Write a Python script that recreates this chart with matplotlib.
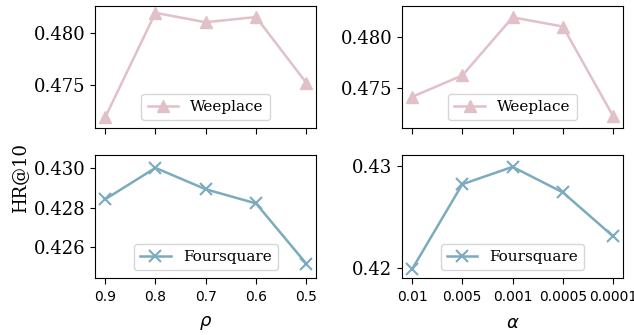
import matplotlib.pyplot as plt

plt.rcParams['font.family'] = 'DejaVu Serif'
plt.rcParams['mathtext.fontset'] = 'dejavusans'

rho_labels = ['0.9', '0.8', '0.7', '0.6', '0.5']
alpha_labels = ['0.01', '0.005', '0.001', '0.0005', '0.0001']

weeplace_rho = [0.4719, 0.4819, 0.4810, 0.4815, 0.4752]
foursquare_rho = [0.42843, 0.43003, 0.42894, 0.42822, 0.42515]
weeplace_alpha = [0.4741, 0.4762, 0.4819, 0.4810, 0.4722]
foursquare_alpha = [0.41987, 0.4282, 0.4299, 0.4274, 0.4231]

pink = '#e2c0c8'
blue = '#7babbd'

fig = plt.figure(figsize=(6.34, 3.35), dpi=100)
ax1 = fig.add_axes([0.150, 0.618, 0.349, 0.364])
ax2 = fig.add_axes([0.634, 0.618, 0.349, 0.364])
ax3 = fig.add_axes([0.150, 0.170, 0.349, 0.367])
ax4 = fig.add_axes([0.634, 0.170, 0.349, 0.367])

x = list(range(5))
ax1.plot(x, weeplace_rho, marker='^', color=pink, lw=1.8, ms=9, label='Weeplace')
ax2.plot(x, weeplace_alpha, marker='^', color=pink, lw=1.8, ms=9, label='Weeplace')
ax3.plot(x, foursquare_rho, marker='x', color=blue, lw=1.8, ms=9, mew=1.5, label='Foursquare')
ax4.plot(x, foursquare_alpha, marker='x', color=blue, lw=1.8, ms=9, mew=1.5, label='Foursquare')

for ax in (ax1, ax2, ax3, ax4):
    ax.set_xticks(x)
    ax.tick_params(axis='y', labelsize=13)
    ax.tick_params(axis='x', length=4.5, pad=4)
    ax.legend(loc='lower center', fontsize=11)

ax1.set_ylim(0.47089, 0.48255)
ax2.set_ylim(0.47105, 0.48301)
ax3.set_ylim(0.42442, 0.43068)
ax4.set_ylim(0.41902, 0.43105)

ax1.set_xticklabels([])
ax2.set_xticklabels([])
ax3.set_xticklabels(rho_labels, fontsize=10, family='DejaVu Sans')
ax4.set_xticklabels(alpha_labels, fontsize=10, family='DejaVu Sans')

ax1.set_yticks([0.475, 0.480])
ax2.set_yticks([0.475, 0.480])
ax3.set_yticks([0.426, 0.428, 0.430])
ax4.set_yticks([0.42, 0.43])
ax1.set_yticklabels(['0.475', '0.480'])
ax2.set_yticklabels(['0.475', '0.480'])
ax3.set_yticklabels(['0.426', '0.428', '0.430'])
ax4.set_yticklabels(['0.42', '0.43'])

ax3.set_xlabel(r'$\rho$', fontsize=13, labelpad=7)
ax4.set_xlabel(r'$\alpha$', fontsize=13, labelpad=7)
fig.text(0.032, 0.47, 'HR@10', rotation=90, fontsize=13, ha='center', va='center')

plt.savefig('out.png', dpi=100)
